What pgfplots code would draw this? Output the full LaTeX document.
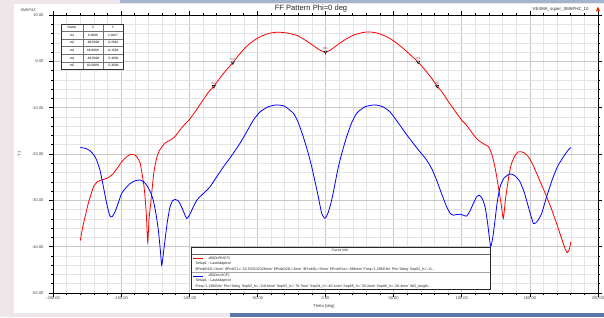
\documentclass[border=0pt]{standalone}
\usepackage{fontspec}
\setmainfont{Liberation Sans}
\usepackage{pgfplots}
\pgfplotsset{compat=1.18}
\definecolor{majgrid}{RGB}{200,200,200}
\definecolor{mingrid}{RGB}{228,228,228}
\definecolor{bgpink}{RGB}{238,230,232}
\definecolor{bgblue}{RGB}{88,118,168}
\definecolor{rhcp}{RGB}{255,0,0}
\definecolor{lhcp}{RGB}{0,0,255}
\pgfplotstableread{
x y
-180 -38.7
-178 -35.5
-176 -33.0
-174 -30.5
-172 -28.6
-170 -26.9
-167 -25.9
-163 -25.5
-160 -25.2
-156 -24.3
-152 -22.7
-149 -21.5
-146 -20.6
-143 -20.1
-140 -20.2
-138 -20.8
-136 -22.0
-134.5 -24.5
-133 -27.5
-131.5 -33.0
-130.5 -39.0
-129.5 -34.0
-128.3 -30.7
-126 -24.0
-124 -21.0
-122 -19.3
-118 -17.7
-114 -17.0
-111 -16.4
-107 -14.9
-104 -13.8
-100 -12.6
-95 -10.6
-90 -8.4
-86 -6.7
-82 -5.4
-78 -3.8
-74 -2.3
-68 -0.29
-63 1.6
-58 3.2
-53 4.4
-48 5.3
-42 6.0
-35 6.3
-28 6.1
-21 5.6
-15 4.6
-9 3.4
-4 2.4
0 2.02
4 2.5
9 3.6
15 4.8
21 5.7
27 6.2
32 6.35
38 6.1
45 5.3
51 4.2
57 2.8
63 1.2
68 -0.15
74 -2.2
78 -3.7
82 -5.36
86 -6.8
90 -8.6
95 -10.7
100 -12.7
103 -13.6
106 -14.8
109 -16.0
112 -17.0
116 -17.8
119.6 -18.4
121.5 -19.6
123.2 -21.3
125 -23.8
127 -27.3
129 -31.0
130.5 -33.9
132 -30.0
133 -27.8
135 -24.0
136.6 -22.0
139 -20.4
141 -19.6
143 -19.5
145.5 -19.7
148.9 -20.6
152 -22.2
155 -24.2
158.5 -26.6
162.3 -29.2
166 -32.0
169.6 -35.0
173 -38.0
176 -40.6
177.5 -41.3
179 -40.5
180 -39.0
}\rhcpdata
\pgfplotstableread{
x y
-180 -18.6
-176 -18.8
-172.8 -19.3
-170 -20.2
-168 -21.3
-165.5 -23.5
-163 -27.1
-160.5 -30.8
-158.2 -33.4
-156.5 -33.5
-154.5 -32.5
-152 -30.5
-149.6 -28.5
-146.5 -27.3
-143.5 -26.4
-140 -25.8
-136.1 -25.6
-133.5 -26.0
-131.3 -26.7
-128.5 -28.2
-126.4 -30.0
-124.5 -32.8
-122.7 -36.4
-121.3 -40.5
-120.2 -44.0
-119 -41.5
-117.8 -38.6
-116 -34.5
-114.1 -31.4
-112.3 -30.1
-110.5 -29.8
-108.5 -30.0
-106.8 -30.7
-104.5 -32.2
-101.9 -33.9
-99.5 -33.0
-97 -31.4
-94.5 -30.0
-92.1 -29.2
-88.5 -28.2
-84.8 -27.1
-80 -25.0
-75 -22.8
-69 -20.4
-62.8 -17.7
-58 -15.3
-53 -12.7
-48 -10.9
-42 -9.8
-36 -9.4
-30 -9.7
-23.6 -11.2
-20 -13.2
-16.3 -16.3
-13 -19.5
-10.1 -22.8
-7.5 -26.2
-5.3 -29.2
-2.8 -32.8
-0.4 -33.9
2 -32.6
4.5 -30.0
7 -26.4
9.4 -22.8
12.5 -19.3
15.5 -16.3
19 -13.4
22.9 -11.2
29 -9.8
36.3 -9.4
42 -9.8
47.3 -10.9
54.2 -13.6
59 -15.6
64.4 -17.7
69 -19.4
74.2 -21.3
78 -23.2
81.5 -25.6
85 -28.4
88.9 -31.4
91.5 -32.8
93.8 -33.2
96 -33.1
98.7 -33.0
101 -33.2
103.6 -33.4
106 -32.3
108.5 -30.7
110.8 -29.3
112.9 -28.9
115 -29.6
117.1 -31.4
119 -35.0
121.2 -39.9
122.8 -38.0
124.4 -34.3
126 -30.5
128.1 -27.1
131 -25.2
135.4 -24.3
139 -24.7
142.8 -26.0
146 -28.4
149 -31.5
152.6 -35.0
155.5 -34.5
158.7 -32.8
162 -29.5
165 -26.8
167.2 -24.9
170.5 -22.6
174.6 -20.6
178 -19.2
180 -18.6
}\lhcpdata
\begin{document}
\begin{tikzpicture}[x=1pt,y=1pt]
\useasboundingbox (0,0) rectangle (604,317);
\fill[bgpink] (0,0) rectangle (604,317);
\fill[bgblue!55!white] (120,314) rectangle (604,317);
\fill[bgblue] (230,0) rectangle (604,4);
\fill[white] (14,4) rectangle (604,313);
\begin{axis}[at={(53pt,24pt)}, anchor=south west, scale only axis,
  width=545pt, height=278pt,
  xmin=-200, xmax=200, ymin=-50, ymax=10,
  xtick={-200,-150,...,200}, minor x tick num=4,
  ytick={-50,-40,...,10}, minor y tick num=4,
  xticklabels={-200.00,-150.00,-100.00,-50.00,0.00,50.00,100.00,150.00,200.00},
  yticklabels={-50.00,-40.00,-30.00,-20.00,-10.00,-0.00,10.00},
  grid=both,
  major grid style={majgrid, line width=0.6pt},
  minor grid style={mingrid, line width=0.5pt},
  axis line style={black, line width=1pt},
  tick align=outside, major tick length=4pt, minor tick length=2pt,
  tick style={black, line width=0.6pt},
  ticklabel style={font=\fontsize{4}{4}\selectfont, text=black!75},
  xticklabel style={yshift=3.5pt},
  yticklabel style={xshift=-2pt},
  /pgf/number format/assume math mode=true,
  xlabel={Theta [deg]}, ylabel={Y1},
  every axis x label/.style={at={(axis description cs:0.497,-0.05)}, anchor=center, font=\fontsize{4.2}{4}\selectfont, text=black!75},
  every axis y label/.style={at={(axis description cs:-0.062,0.5)}, rotate=90, anchor=center, font=\fontsize{4.2}{4}\selectfont, text=black!75},
  clip=true,
]
\addplot[rhcp, line width=0.8pt, smooth, tension=0.35] table[x=x,y=y] {\rhcpdata};
\addplot[lhcp, line width=0.8pt, smooth, tension=0.35] table[x=x,y=y] {\lhcpdata};
\addplot[only marks, mark=triangle*, mark size=1.7pt,
  mark options={rotate=180, fill=white, draw=black, line width=0.6pt},
  point meta=explicit symbolic, nodes near coords,
  nodes near coords style={font=\fontsize{3.3}{3.5}\selectfont, text=black!65, anchor=south, yshift=-1.5pt}]
  coordinates {(0,2.0227)[m1] (-68,-0.2910)[m2] (68,-0.1526)[m3] (-82,-5.4030)[m4] (82,-5.3609)[m5]};
\end{axis}
% header texts
\node[font=\fontsize{7.6}{8}\selectfont, text=black!85] at (311,308) {FF Pattern Phi=0 deg};
\node[font=\fontsize{3.8}{4}\selectfont, text=black!75, anchor=west] at (17,307) {SM6FHZ};
\node[font=\fontsize{4.4}{5}\selectfont, text=black!80, anchor=east] at (592,308) {VE4MA\_super\_SM6FHZ\_10};
\fill[red!70!orange] (596,306) -- (600,306) -- (598,310.5) -- cycle;
% marker table
\begin{scope}[font=\fontsize{3.2}{3.5}\selectfont]
\fill[white] (61,248) rectangle (123,293);
\foreach \yy in {286,278.3,270.7,263,255.3} {\draw[black!55, line width=0.4pt] (61,\yy) -- (123,\yy);}
\draw[black!55, line width=0.4pt] (83,248) -- (83,293);
\draw[black!55, line width=0.4pt] (103,248) -- (103,293);
\draw[black!80, line width=0.9pt] (61,248) rectangle (123,293);
\node at (72,289.6) {Name}; \node at (93,289.6) {X}; \node at (113,289.6) {Y};
\node at (72,282) {m1}; \node at (93,282) {0.0000}; \node at (113,282) {2.0227};
\node at (72,274.4) {m2}; \node at (93,274.4) {-68.0000}; \node at (113,274.4) {-0.2910};
\node at (72,266.8) {m3}; \node at (93,266.8) {68.0000}; \node at (113,266.8) {-0.1526};
\node at (72,259.1) {m4}; \node at (93,259.1) {-82.0000}; \node at (113,259.1) {-5.4030};
\node at (72,251.6) {m5}; \node at (93,251.6) {82.0000}; \node at (113,251.6) {-5.3609};
\end{scope}
% curve info box
\begin{scope}[font=\fontsize{3.6}{4}\selectfont, text=black!85]
\fill[white] (191,28) rectangle (490,70);
\draw[black!60, line width=0.5pt] (191,63) -- (490,63);
\draw[black!35, line width=0.8pt] (191,45) -- (490,45);
\draw[black!85, line width=1pt] (191,28) rectangle (490,70);
\node at (340,66.5) {Curve Info};
\draw[rhcp, line width=0.9pt] (193,58.5) -- (203,58.5);
\node[anchor=west] at (205,58.5) {dB(DirRHCP)};
\node[anchor=west] at (192,53) {Setup1 : LastAdaptive};
\node[anchor=west] at (192,47.8) {\$ProbD1D='3mm' \$ProbTL='-53.533232328mm' \$ProbD2D='3mm' \$ProbSL='5mm' \$ProbPos='-686mm' Freq='1.296GHz' Phi='0deg' Sep02\_h='-11...};
\draw[lhcp, line width=0.9pt] (193,41) -- (203,41);
\node[anchor=west] at (205,41) {dB(DirLHCP)};
\node[anchor=west] at (192,36) {Setup1 : LastAdaptive};
\node[anchor=west] at (192,30.8) {Freq='1.296GHz' Phi='0deg' Sep02\_h='-118.6mm' Sep03\_h='-76.7mm' Sep04\_h='-40.1mm' Sep05\_h='-30.4mm' Sep06\_h='-26.4mm' WG\_length...};
\end{scope}
\end{tikzpicture}
\end{document}
